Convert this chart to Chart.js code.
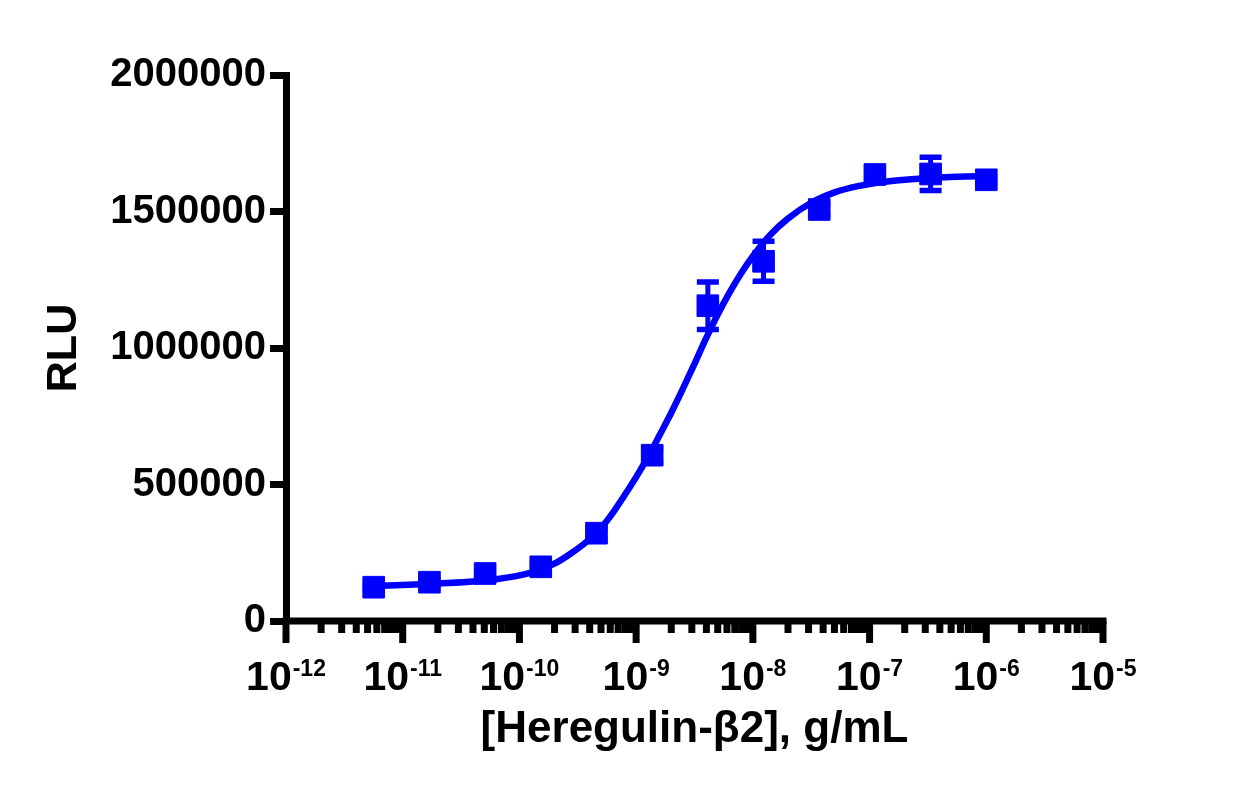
<!DOCTYPE html>
<html>
<head>
<meta charset="utf-8">
<script src="https://cdn.jsdelivr.net/npm/chart.js@4.4.1/dist/chart.umd.min.js"></script>
<style>
html, body { margin: 0; padding: 0; background: #ffffff; }
#wrap { width: 1236px; height: 793px; position: relative; }
</style>
</head>
<body>
<div id="wrap"><canvas id="c"></canvas></div>
<script>
// ---- Data ----
const concentrations = [5.645e-12, 1.694e-11, 5.081e-11, 1.524e-10, 4.572e-10, 1.372e-9,
                        4.115e-9, 1.235e-8, 3.704e-8, 1.111e-7, 3.333e-7, 1.0e-6];
const rluMean = [123800, 142100, 174000, 198500, 321600, 607300,
                 1154900, 1317600, 1507300, 1635500, 1637400, 1616100];
const rluError = [8000, 9000, 10000, 12000, 20000, 25000,
                  86800, 73300, 20000, 15000, 60900, 12000];

// fitted curve
const fitX = [5.645e-12, 1.995e-11, 6.31e-11, 1.259e-10, 1.995e-10, 2.818e-10, 3.981e-10, 5.012e-10,
              6.31e-10, 7.943e-10, 1.0e-9, 1.259e-9, 1.585e-9, 1.995e-9, 2.512e-9, 3.162e-9,
              3.981e-9, 5.012e-9, 6.31e-9, 7.943e-9, 1.0e-8, 1.413e-8, 1.995e-8, 3.162e-8,
              5.012e-8, 7.943e-8, 1.413e-7, 2.818e-7, 5.623e-7, 1.0e-6];
const fitY = [128000, 137000, 153000, 177000, 210000, 250000, 299000, 341000,
              396000, 460000, 527000, 600000, 680000, 762000, 850000, 942000,
              1036000, 1124000, 1203000, 1274000, 1336000, 1415000, 1474000, 1532000,
              1570000, 1593000, 1610000, 1621000, 1627000, 1630000];

const xTickExponents = [-12, -11, -10, -9, -8, -7, -6, -5];
const minorMultipliers = [2, 3, 4, 5, 6, 7, 8, 9];
const yTickValues = [0, 500000, 1000000, 1500000, 2000000];

const xTitle = '[Heregulin-\u03B22], g/mL';
const yTitle = 'RLU';

const FONT = '"Liberation Sans", Arial, Helvetica, sans-serif';
const BLUE = 'rgb(0,0,255)';

const pointsData = concentrations.map((x, i) => ({ x: x, y: rluMean[i] }));
const curveData = fitX.map((x, i) => ({ x: x, y: fitY[i] }));

const errorBarPlugin = {
  id: 'errorBars',
  afterDatasetsDraw(chart) {
    const ctx = chart.ctx;
    const xs = chart.scales.x, ys = chart.scales.y;
    ctx.save();
    ctx.strokeStyle = BLUE;
    ctx.lineCap = 'butt';
    concentrations.forEach((c, i) => {
      const px = xs.getPixelForValue(c);
      const top = ys.getPixelForValue(rluMean[i] + rluError[i]);
      const bot = ys.getPixelForValue(rluMean[i] - rluError[i]);
      ctx.lineWidth = 5;
      ctx.beginPath();
      ctx.moveTo(px, top); ctx.lineTo(px, bot);
      ctx.stroke();
      ctx.lineWidth = 5.5;
      ctx.beginPath();
      ctx.moveTo(px - 11, top); ctx.lineTo(px + 11, top);
      ctx.moveTo(px - 11, bot); ctx.lineTo(px + 11, bot);
      ctx.stroke();
    });
    ctx.restore();
  }
};

const xAxisPlugin = {
  id: 'logXAxis',
  afterDraw(chart) {
    const ctx = chart.ctx;
    const xs = chart.scales.x;
    const area = chart.chartArea;
    const lw = 7;
    ctx.save();
    ctx.strokeStyle = '#000';
    ctx.fillStyle = '#000';
    ctx.lineCap = 'butt';
    ctx.lineWidth = lw;
    ctx.beginPath();
    ctx.moveTo(area.left - lw / 2, area.bottom);
    ctx.lineTo(area.right + lw / 2, area.bottom);
    ctx.stroke();
    xTickExponents.forEach((e, idx) => {
      const px = xs.getPixelForValue(Math.pow(10, e));
      ctx.beginPath();
      ctx.moveTo(px, area.bottom);
      ctx.lineTo(px, area.bottom + 22);
      ctx.stroke();
      if (idx < xTickExponents.length - 1) {
        minorMultipliers.forEach(m => {
          const mx = xs.getPixelForValue(m * Math.pow(10, e));
          ctx.beginPath();
          ctx.moveTo(mx, area.bottom);
          ctx.lineTo(mx, area.bottom + 12);
          ctx.stroke();
        });
      }
      // label 10^e
      const base = '10';
      const sup = String(e);
      ctx.font = 'bold 41px ' + FONT;
      const wb = ctx.measureText(base).width;
      ctx.font = 'bold 23px ' + FONT;
      const ws = ctx.measureText(sup).width;
      const gap = 1;
      const start = px - (wb + gap + ws) / 2;
      ctx.textBaseline = 'alphabetic';
      ctx.textAlign = 'left';
      ctx.font = 'bold 41px ' + FONT;
      ctx.fillText(base, start, area.bottom + 69);
      ctx.font = 'bold 23px ' + FONT;
      ctx.fillText(sup, start + wb + gap, area.bottom + 55);
    });
    ctx.restore();
  }
};

new Chart(document.getElementById('c'), {
  type: 'scatter',
  data: {
    datasets: [
      {
        label: 'fit',
        data: curveData,
        showLine: true,
        borderColor: BLUE,
        borderWidth: 6.5,
        pointRadius: 0,
        pointHoverRadius: 0,
        cubicInterpolationMode: 'monotone',
        fill: false,
        order: 2
      },
      {
        label: 'RLU',
        data: pointsData,
        showLine: false,
        pointStyle: 'rect',
        pointRadius: 15.3,
        pointHoverRadius: 15.3,
        pointBackgroundColor: BLUE,
        pointBorderColor: BLUE,
        pointBorderWidth: 1,
        order: 1
      }
    ]
  },
  options: {
    responsive: true,
    maintainAspectRatio: false,
    animation: false,
    layout: { padding: { left: 0, top: 75, right: 133, bottom: 0 } },
    plugins: {
      legend: { display: false },
      tooltip: { enabled: false }
    },
    scales: {
      x: {
        type: 'logarithmic',
        position: 'bottom',
        min: 1e-12,
        max: 1e-5,
        grid: { display: false },
        border: { display: false },
        ticks: { display: false },
        title: {
          display: true,
          text: xTitle,
          color: '#000',
          font: { family: FONT, size: 44, weight: 'bold' },
          padding: { top: 0, bottom: 37 }
        },
        afterFit(scale) { scale.height = 172; }
      },
      y: {
        type: 'linear',
        position: 'left',
        min: 0,
        max: 2000000,
        afterBuildTicks(scale) { scale.ticks = yTickValues.map(v => ({ value: v })); },
        ticks: {
          color: '#000',
          padding: 4,
          font: { family: FONT, size: 40, weight: 'bold' },
          callback: (v) => String(v)
        },
        grid: {
          display: true,
          drawOnChartArea: false,
          drawTicks: true,
          tickLength: 16,
          tickWidth: 7,
          tickColor: '#000',
          color: '#000'
        },
        border: { display: true, color: '#000', width: 7 },
        title: {
          display: true,
          text: yTitle,
          color: '#000',
          font: { family: FONT, size: 43, weight: 'bold' },
          padding: { top: 38, bottom: 0 }
        },
        afterFit(scale) { scale.width = 286; }
      }
    }
  },
  plugins: [errorBarPlugin, xAxisPlugin]
});
</script>
</body>
</html>
